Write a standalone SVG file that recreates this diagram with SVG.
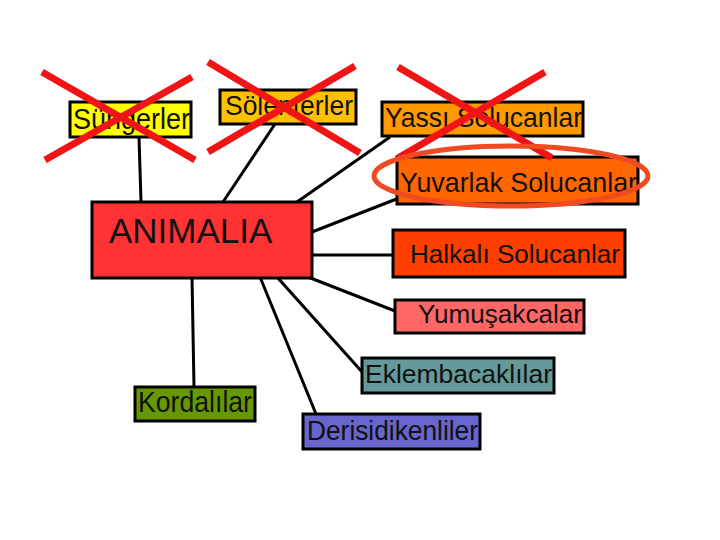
<svg xmlns="http://www.w3.org/2000/svg" width="720" height="540" viewBox="0 0 720 540">
<style>
.box{stroke:#000;stroke-width:3}
.t{font-family:"Liberation Sans",Arial,sans-serif;fill:#111}
.c{stroke:#000;stroke-width:3;fill:none}
.x{stroke:#f01414;stroke-width:7;stroke-linecap:butt}
</style>
<rect width="720" height="540" fill="#fff"/>
<g id="connectors">
<line class="c" x1="139" y1="137" x2="141" y2="202"/>
<line class="c" x1="275" y1="124" x2="223" y2="202"/>
<line class="c" x1="390" y1="137" x2="297" y2="202"/>
<line class="c" x1="312" y1="232" x2="399" y2="198"/>
<line class="c" x1="312" y1="255" x2="393" y2="255"/>
<line class="c" x1="308" y1="277" x2="395" y2="311"/>
<line class="c" x1="277" y1="277" x2="363" y2="373"/>
<line class="c" x1="260" y1="277" x2="316" y2="414"/>
<line class="c" x1="192" y1="277" x2="194" y2="387"/>
</g>
<g id="animalia">
<rect class="box" x="92" y="202" width="220" height="76" fill="#ff3333"/>
<text class="t" x="109" y="243" font-size="35">ANIMALIA</text>
</g>
<g id="sungerler">
<rect class="box" x="70" y="102" width="121" height="35" fill="#ffff00"/>
<text class="t" x="73" y="129" font-size="30" textLength="117" lengthAdjust="spacingAndGlyphs">Süngerler</text>
</g>
<g id="solenterler">
<rect class="box" x="220" y="90" width="136" height="34" fill="#ffc000"/>
<text class="t" x="225" y="115" font-size="28" textLength="128" lengthAdjust="spacingAndGlyphs">Sölenterler</text>
</g>
<g id="yassi">
<rect class="box" x="382" y="102" width="201" height="34" fill="#ff9900"/>
<text class="t" x="385" y="127" font-size="28" textLength="197" lengthAdjust="spacingAndGlyphs">Yassı Solucanlar</text>
</g>
<g id="yuvarlak">
<rect class="box" x="397" y="157" width="241" height="47" fill="#ff6600"/>
<text class="t" x="400" y="192" font-size="28" textLength="237" lengthAdjust="spacingAndGlyphs">Yuvarlak Solucanlar</text>
</g>
<g id="halkali">
<rect class="box" x="393" y="230" width="232" height="47" fill="#ff3f00"/>
<text class="t" x="410" y="263" font-size="26" textLength="210" lengthAdjust="spacingAndGlyphs">Halkalı Solucanlar</text>
</g>
<g id="yumusakcalar">
<rect class="box" x="395" y="300" width="189" height="33" fill="#ff6666"/>
<text class="t" x="418" y="323" font-size="26" textLength="164" lengthAdjust="spacingAndGlyphs">Yumuşakcalar</text>
</g>
<g id="eklembacaklilar">
<rect class="box" x="362" y="358" width="192" height="35" fill="#669999"/>
<text class="t" x="365" y="383" font-size="26" textLength="187" lengthAdjust="spacingAndGlyphs">Eklembacaklılar</text>
</g>
<g id="kordalilar">
<rect class="box" x="135" y="387" width="120" height="34" fill="#669900"/>
<text class="t" x="138" y="412" font-size="30" textLength="114" lengthAdjust="spacingAndGlyphs">Kordalılar</text>
</g>
<g id="derisidikenliler">
<rect class="box" x="303" y="414" width="177" height="35" fill="#6666cc"/>
<text class="t" x="307" y="440" font-size="28" textLength="171" lengthAdjust="spacingAndGlyphs">Derisidikenliler</text>
</g>
<g id="marks">
<line class="x" x1="42" y1="72" x2="195" y2="160"/>
<line class="x" x1="192" y1="77" x2="45" y2="160"/>
<line class="x" x1="208" y1="62" x2="360" y2="153"/>
<line class="x" x1="355" y1="66" x2="208" y2="152"/>
<line class="x" x1="398" y1="67" x2="552" y2="158"/>
<line class="x" x1="545" y1="72" x2="398" y2="158"/>
<ellipse cx="511" cy="176" rx="137" ry="30" fill="none" stroke="#f04a22" stroke-width="5"/>
</g>
</svg>
